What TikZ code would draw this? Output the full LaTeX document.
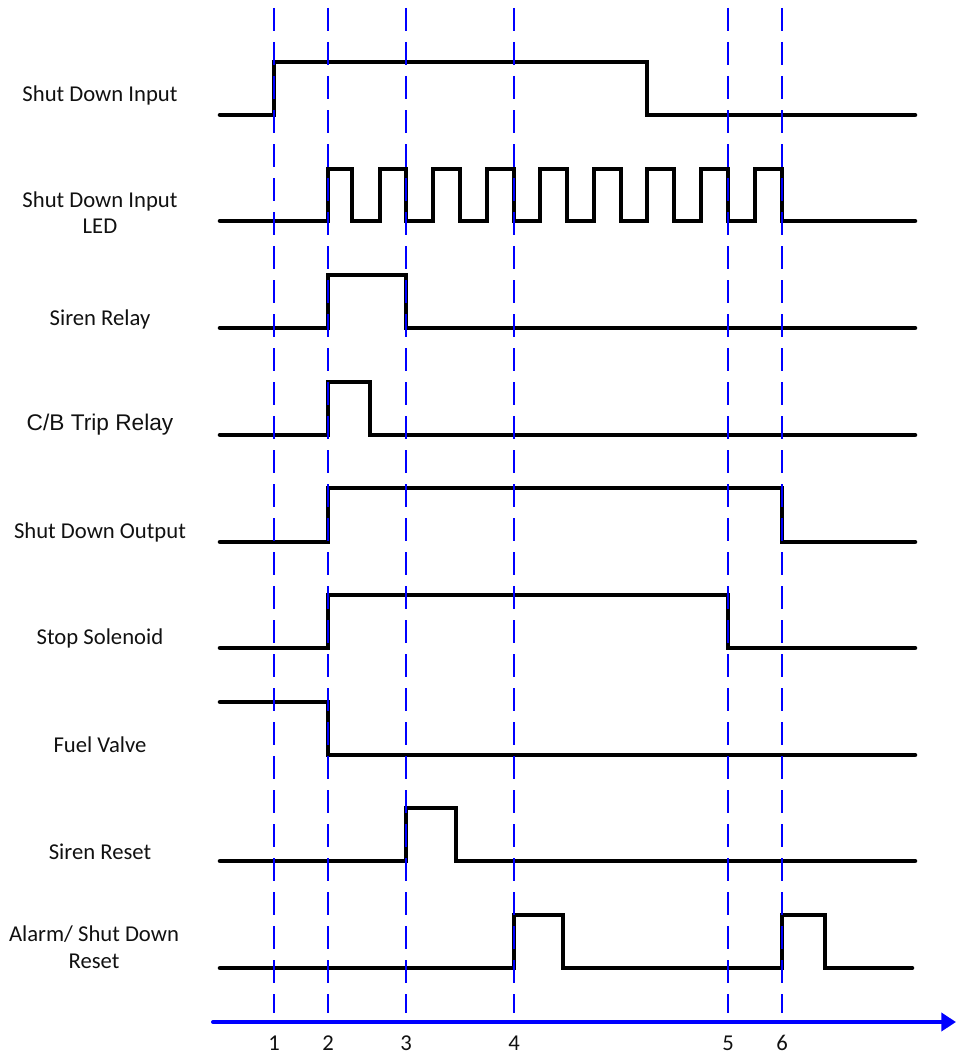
\documentclass[tikz,border=0pt]{standalone}
\usepackage{fontspec}
\setmainfont{Carlito}
\newfontfamily\arialfont{Liberation Sans}
\usetikzlibrary{arrows.meta}
\definecolor{markblue}{HTML}{0000FF}
\definecolor{axisblue}{HTML}{0000FF}
\definecolor{ink}{HTML}{111111}
\tikzset{
  sig/.style={draw=black, line width=3.4pt, line cap=round, line join=miter},
  tmark/.style={draw=markblue, line width=0.8pt, dash pattern=on 17.25pt off 8.25pt},
  taxis/.style={draw=axisblue, line width=3pt, line cap=round,
                -{Triangle[length=11pt,width=13.5pt]}},
  lbl/.style={font=\fontsize{17}{20}\selectfont, align=center, text=ink, inner sep=0pt},
  tnum/.style={font=\fontsize{17}{20}\selectfont, text=ink, inner sep=0pt},
}

\begin{document}
\begin{tikzpicture}[x=0.75pt, y=-0.75pt]
\useasboundingbox (0,0) rectangle (956,1056);

% signal names
\node[lbl] (sdin)  at (100,95)    {Shut Down Input};
\node[lbl] (sdled) at (100,212.5) {Shut Down Input\\LED};
\node[lbl] (siren) at (100,319)   {Siren Relay};
\node[lbl, font=\arialfont\fontsize{17}{20}\selectfont] (cbtrip) at (100,425) {C/B Trip Relay};
\node[lbl] (sdout) at (100,532)   {Shut Down Output};
\node[lbl] (stop)  at (100,638)   {Stop Solenoid};
\node[lbl] (fuel)  at (100,745)   {Fuel Valve};
\node[lbl] (srst)  at (100,852)   {Siren Reset};
\node[lbl] (arst)  at (94,947.5)  {Alarm/ Shut Down\\Reset};

% waveforms
\draw[sig] (220,115) -- (274,115) -- (274,62) -- (647,62) -- (647,115) -- (915,115);
\draw[sig] (220,221)
  foreach \r/\f in {328/352,380/406,433/460,487/514,540/567,594/621,647/674,701/728,755/782}
  { -- (\r,221) -- (\r,169) -- (\f,169) -- (\f,221) } -- (915,221);
\draw[sig] (220,328) -- (328,328) -- (328,275) -- (406,275) -- (406,328) -- (915,328);
\draw[sig] (220,435) -- (328,435) -- (328,382) -- (370,382) -- (370,435) -- (915,435);
\draw[sig] (220,542) -- (328,542) -- (328,488) -- (782,488) -- (782,542) -- (915,542);
\draw[sig] (220,648) -- (328,648) -- (328,595) -- (728,595) -- (728,648) -- (915,648);
\draw[sig] (220,702) -- (328,702) -- (328,755) -- (915,755);
\draw[sig] (220,861) -- (406,861) -- (406,808) -- (456,808) -- (456,861) -- (915,861);
\draw[sig] (220,968) -- (514,968) -- (514,915) -- (563,915) -- (563,968)
  -- (782,968) -- (782,915) -- (825,915) -- (825,968) -- (912,968);

% time axis and event markers
\coordinate (ax0) at (213,1022);
\coordinate (ax1) at (956,1022);
\draw[taxis] (ax0) -- (ax1);
\foreach \x/\n in {274/1,328/2,406/3,514/4,728/5,782/6} {
  \node[tnum] (t\n) at (\x,1043) {\n};
  \coordinate (m\n) at (\x,8);
  \draw[tmark] (m\n) -- (\x,1013);
}
\end{tikzpicture}
\end{document}
